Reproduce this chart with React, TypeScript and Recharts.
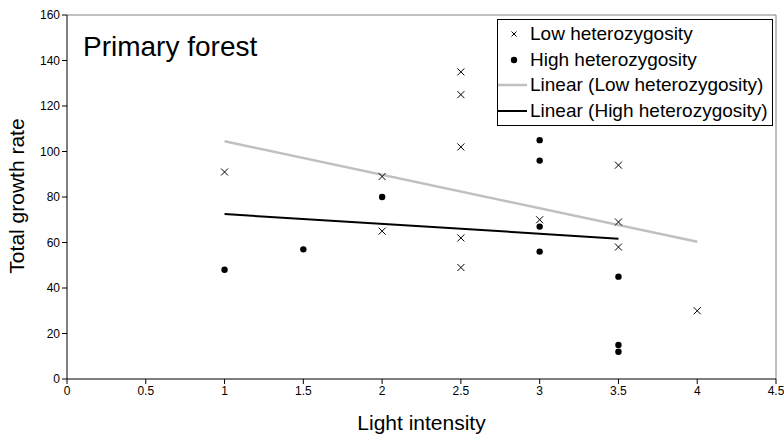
import {
  ComposedChart, Scatter, Line, XAxis, YAxis, ReferenceLine, Label,
} from "recharts";

const lowX = [1, 2, 2, 2.5, 2.5, 2.5, 2.5, 2.5, 3, 3.5, 3.5, 3.5, 4];
const lowY = [91, 89, 65, 135, 125, 102, 62, 49, 70, 94, 69, 58, 30];
const highX = [1, 1.5, 2, 3, 3, 3, 3, 3.5, 3.5, 3.5];
const highY = [48, 57, 80, 105, 96, 67, 56, 45, 15, 12];
const lowTrendX = [1, 4];
const lowTrendY = [104.5, 60.3];
const highTrendX = [1, 3.5];
const highTrendY = [72.5, 61.7];

const xTicks = [0, 0.5, 1, 1.5, 2, 2.5, 3, 3.5, 4, 4.5];
const yTicks = [0, 20, 40, 60, 80, 100, 120, 140, 160];

const zip = (xs: number[], ys: number[]) => xs.map((x, i) => ({ x, y: ys[i] }));
const lowData = zip(lowX, lowY);
const highData = zip(highX, highY);
const lowTrend = zip(lowTrendX, lowTrendY);
const highTrend = zip(highTrendX, highTrendY);

const FONT = "'Liberation Sans', Arial, sans-serif";

// x-shaped marker
const XMark = (props: any) => {
  const { cx, cy } = props;
  const s = 3.5;
  return (
    <path
      d={`M${cx - s},${cy - s}L${cx + s},${cy + s}M${cx - s},${cy + s}L${cx + s},${cy - s}`}
      stroke="#000"
      strokeWidth={1}
      fill="none"
    />
  );
};

const Dot = (props: any) => <circle cx={props.cx} cy={props.cy} r={3.2} fill="#000" />;

const legendRows = [
  { label: "Low heterozygosity", kind: "x" },
  { label: "High heterozygosity", kind: "dot" },
  { label: "Linear (Low heterozygosity)", kind: "gray" },
  { label: "Linear (High heterozygosity)", kind: "black" },
];

function LegendBox() {
  return (
    <div
      style={{
        position: "absolute",
        left: 497,
        top: 19,
        width: 274,
        height: 104,
        border: "1px solid #000",
        background: "#fff",
        paddingTop: 1,
        boxSizing: "content-box",
        fontFamily: FONT,
        fontSize: 19,
        color: "#000",
      }}
    >
      {legendRows.map((r) => (
        <div key={r.label} style={{ display: "flex", alignItems: "center", height: 25.7, whiteSpace: "nowrap" }}>
          <svg width={31} height={20} style={{ flexShrink: 0 }}>
            {r.kind === "x" && (
              <path d="M13.5,7.5L18.5,12.5M13.5,12.5L18.5,7.5" stroke="#000" strokeWidth={1} />
            )}
            {r.kind === "dot" && <circle cx={16} cy={10} r={3.2} fill="#000" />}
            {r.kind === "gray" && <line x1={0} y1={10} x2={29} y2={10} stroke="#c0c0c0" strokeWidth={2.5} />}
            {r.kind === "black" && <line x1={0} y1={10} x2={29} y2={10} stroke="#000" strokeWidth={2} />}
          </svg>
          <span style={{ marginLeft: 1 }}>{r.label}</span>
        </div>
      ))}
    </div>
  );
}

export default function App() {
  return (
    <div style={{ position: "absolute", left: 0, top: 0, width: 784, height: 436, background: "#fff", fontFamily: FONT }}>
      <ComposedChart width={784} height={436} margin={{ top: 15, right: 8, left: 7, bottom: 0 }}>
        <XAxis
          type="number"
          dataKey="x"
          domain={[0, 4.5]}
          ticks={xTicks}
          interval={0}
          height={57}
          tickSize={5}
          tickMargin={2}
          stroke="#000"
          tick={{ fill: "#000", fontSize: 12, fontFamily: FONT }}
        >
          <Label value="Light intensity" position="insideBottom" offset={6} fill="#000" fontSize={21} fontFamily={FONT} />
        </XAxis>
        <YAxis
          type="number"
          domain={[0, 160]}
          ticks={yTicks}
          interval={0}
          width={60}
          tickSize={5}
          tickMargin={2}
          stroke="#000"
          tick={{ fill: "#000", fontSize: 12, fontFamily: FONT }}
        >
          <Label
            content={() => (
              <text
                x={24}
                y={196}
                transform="rotate(-90, 24, 196)"
                textAnchor="middle"
                fontSize={21}
                fontFamily={FONT}
                fill="#000"
              >
                Total growth rate
              </text>
            )}
          />
        </YAxis>
        <ReferenceLine y={160} stroke="#808080" strokeWidth={1} />
        <ReferenceLine x={4.5} stroke="#808080" strokeWidth={1} />
        <Line
          data={lowTrend}
          dataKey="y"
          stroke="#c0c0c0"
          strokeWidth={2.5}
          dot={false}
          activeDot={false}
          isAnimationActive={false}
        />
        <Line
          data={highTrend}
          dataKey="y"
          stroke="#000"
          strokeWidth={2}
          dot={false}
          activeDot={false}
          isAnimationActive={false}
        />
        <Scatter data={lowData} dataKey="y" shape={<XMark />} isAnimationActive={false} />
        <Scatter data={highData} dataKey="y" shape={<Dot />} isAnimationActive={false} />
      </ComposedChart>
      <LegendBox />
      <div
        style={{
          position: "absolute",
          left: 83,
          top: 30,
          fontSize: 28,
          lineHeight: "34px",
          fontFamily: FONT,
          color: "#000",
          whiteSpace: "nowrap",
        }}
      >
        Primary forest
      </div>
    </div>
  );
}
